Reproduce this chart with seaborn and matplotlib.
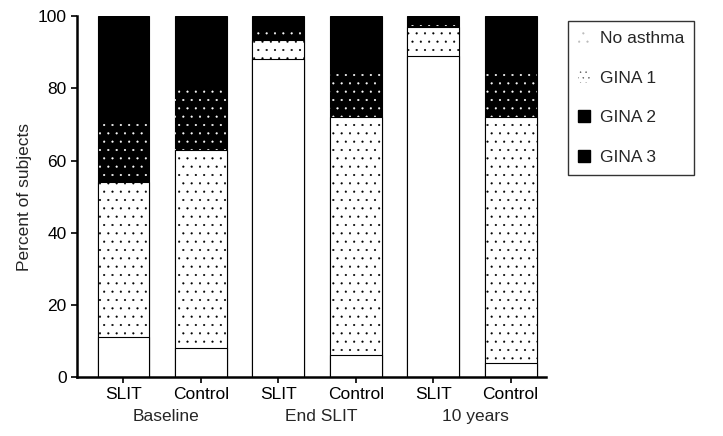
import matplotlib
matplotlib.use("Agg")
import matplotlib.pyplot as plt
import matplotlib.patches as mpatches
import seaborn as sns
import pandas as pd
import numpy as np

bars = ["SLIT", "Control", "SLIT ", "Control ", "SLIT  ", "Control  "]
tick_labels = ["SLIT", "Control", "SLIT", "Control", "SLIT", "Control"]
groups = ["Baseline", "End SLIT", "10 years"]
categories = ["No asthma", "GINA 1", "GINA 2", "GINA 3"]
no_asthma = [11, 8, 88, 6, 89, 4]
gina1 = [43, 55, 5.5, 66, 8, 68]
gina2 = [17, 17, 2, 12, 0.5, 12]
gina3 = [29, 20, 4.5, 16, 2.5, 16]

sns.set_theme(style="ticks")
plt.rcParams["font.family"] = ["Liberation Sans", "DejaVu Sans"]
plt.rcParams["hatch.linewidth"] = 0.3

df = pd.DataFrame({"bar": bars, "No asthma": no_asthma, "GINA 1": gina1,
                   "GINA 2": gina2, "GINA 3": gina3})
cum = df[categories].cumsum(axis=1)

fig = plt.figure(figsize=(7.23, 4.36), dpi=100)
ax = fig.add_axes([0.1065, 0.135, 0.648, 0.828])

styles = {
    "GINA 3": dict(color="black", edgecolor="black", hatch=None, lw=0.8),
    "GINA 2": dict(color="black", edgecolor="white", hatch="..", lw=0),
    "GINA 1": dict(color="white", edgecolor="black", hatch="..", lw=0.8),
    "No asthma": dict(color="white", edgecolor="black", hatch=None, lw=0.8),
}

for cat in reversed(categories):
    st = styles[cat]
    before = len(ax.patches)
    sns.barplot(x=df["bar"], y=cum[cat], order=bars, color=st["color"],
                width=0.67, saturation=1, ax=ax, linewidth=st["lw"],
                edgecolor=st["edgecolor"])
    for p in ax.patches[before:]:
        if st["hatch"]:
            p.set_hatch(st["hatch"])
        p.set_facecolor(st["color"])

ax.set_ylim(0, 100)
ax.set_xlim(-0.6, 5.45)
ax.set_yticks([0, 20, 40, 60, 80, 100])
ax.set_yticklabels(["0", "20", "40", "60", "80", "100"], fontsize=12.5)
ax.set_xticks(range(6))
ax.set_xticklabels(tick_labels, fontsize=12.5)
ax.set_xlabel("")
ax.set_ylabel("Percent of subjects", fontsize=12.5)
ax.tick_params(axis="both", direction="out", length=4, width=1.2, colors="black")
ax.tick_params(axis="x", pad=3)
for s in ["top", "right"]:
    ax.spines[s].set_visible(False)
for s in ["left", "bottom"]:
    ax.spines[s].set_linewidth(1.8)
    ax.spines[s].set_color("black")

for i, g in enumerate(groups):
    ax.text(2 * i + 0.55, -0.088, g, transform=ax.get_xaxis_transform(),
            ha="center", va="top", fontsize=12.5)

handles = [
    mpatches.Patch(facecolor="white", edgecolor="#bbbbbb", hatch="..", lw=0, label="No asthma"),
    mpatches.Patch(facecolor="white", edgecolor="#555555", hatch="...", lw=0, label="GINA 1"),
    mpatches.Patch(facecolor="black", edgecolor="black", label="GINA 2"),
    mpatches.Patch(facecolor="black", edgecolor="black", label="GINA 3"),
]
leg = fig.legend(handles=handles, loc="upper left", bbox_to_anchor=(0.785, 0.952),
                 frameon=True, fancybox=False, fontsize=12.5, handlelength=0.7,
                 handleheight=0.7, labelspacing=1.4, borderpad=0.6, handletextpad=0.55,
                 borderaxespad=0)
leg.get_frame().set_edgecolor("black")
leg.get_frame().set_linewidth(1.0)

fig.savefig("out.png", dpi=100)
